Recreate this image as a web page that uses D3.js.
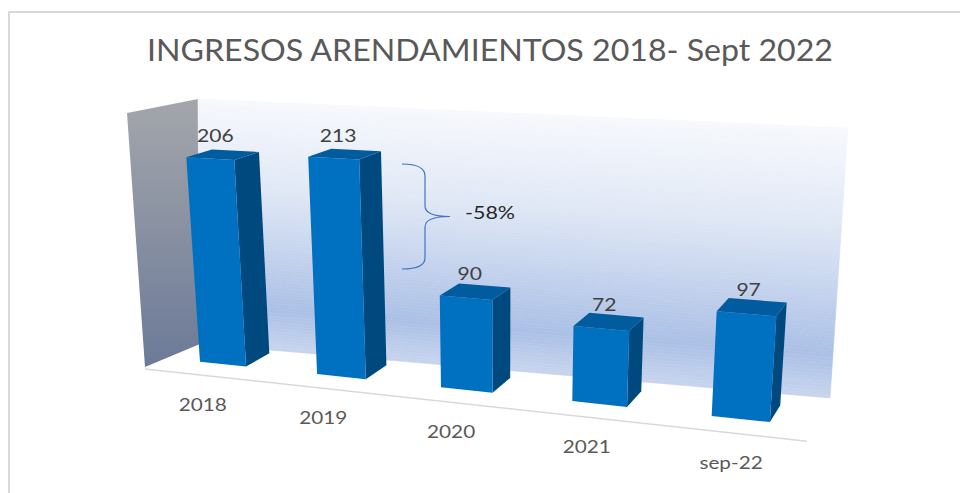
<!DOCTYPE html>
<html>
<head>
<meta charset="utf-8">
<script src="https://cdn.jsdelivr.net/npm/d3@7"></script>
<style>
  html, body { margin: 0; padding: 0; background: #ffffff; }
  svg { display: block; }
</style>
</head>
<body>
<svg id="chart" width="960" height="493"></svg>
<script>
// ---------------- DATA ----------------
const categories = ["2018", "2019", "2020", "2021", "sep-22"];
const values = [206, 213, 90, 72, 97];
const chartTitle = "INGRESOS ARENDAMIENTOS 2018- Sept 2022";
const annotationText = "-58%";
const valueMax = 250;

// ---------------- SCENE (3D perspective of the plot box) ----------------
const svg = d3.select("#chart");

// category axis in world units 0..5, bars take 40% of each slot
const xBand = d3.scaleBand().domain(categories).range([0, 5]).paddingInner(0.6).paddingOuter(0.3);
const yVal = d3.scaleLinear().domain([0, valueMax]).range([0, valueMax]);

// projective camera: world (U along categories, v depth, Y height) -> screen
function proj(U, v, Y) {
  const xh = 107.52 * U + 30.1 * v + 166.1 - 0.105 * Y;
  const yh = 2.124 * U - 3.5 * v + 358.11 - 1.017 * Y;
  const w = 1 - 0.0272 * U + 0.027 * v - 0.00021 * Y;
  return [xh / w, yh / w];
}
const floorFrontV = -0.806;

// border
svg.append("rect").attr("x", 9).attr("y", 12).attr("width", 1000).attr("height", 600)
  .attr("fill", "none").attr("stroke", "#d9d9d9").attr("stroke-width", 2);

// walls (decor)
const sideWall = [[127, 113], [198, 99], [200, 344], [145, 367]];
const backWall = { tl: [198, 99], tr: [848, 128], br: [830, 398], bl: [200, 344] };

const defs = svg.append("defs");
const sg = defs.append("linearGradient").attr("id", "sideGrad")
  .attr("gradientUnits", "userSpaceOnUse").attr("x1", 0).attr("y1", 100).attr("x2", 0).attr("y2", 367);
sg.append("stop").attr("offset", 0).attr("stop-color", "#a3a6ab");
sg.append("stop").attr("offset", 1).attr("stop-color", "#6c7a98");
svg.append("path").attr("d", "M" + sideWall.join("L") + "Z").attr("fill", "url(#sideGrad)");

const wallColor = d3.scaleLinear()
  .domain([0, 0.35, 0.6, 0.84, 1])
  .range(["#f7f9fd", "#e1e8f6", "#c6d4ee", "#abc0e6", "#c8d5ee"])
  .interpolate(d3.interpolateRgb);
const lerp = (a, b, t) => [a[0] + (b[0] - a[0]) * t, a[1] + (b[1] - a[1]) * t];
const N = 80;
const wallG = svg.append("g");
for (let k = 0; k < N; k++) {
  const t0 = k / N, t1 = (k + 1) / N;
  const p = [lerp(backWall.tl, backWall.bl, t0), lerp(backWall.tr, backWall.br, t0),
             lerp(backWall.tr, backWall.br, t1), lerp(backWall.tl, backWall.bl, t1)];
  const c = wallColor((t0 + t1) / 2);
  wallG.append("path").attr("d", "M" + p.join("L") + "Z").attr("fill", c).attr("stroke", c).attr("stroke-width", 0.6);
}

// floor front edge
const fl0 = proj(0, floorFrontV, 0), fl1 = proj(5, floorFrontV, 0);
svg.append("line").attr("x1", fl0[0]).attr("y1", fl0[1]).attr("x2", fl1[0]).attr("y2", fl1[1])
  .attr("stroke", "#d9d9d9").attr("stroke-width", 1.5);

// ---------------- BARS ----------------
const poly = pts => "M" + pts.map(p => p.join(",")).join("L") + "Z";
const barsG = svg.append("g");
categories.forEach((c, i) => {
  const u0 = xBand(c), u1 = u0 + xBand.bandwidth();
  const h = yVal(values[i]);
  const g = barsG.append("g");
  g.append("path").attr("d", poly([proj(u1, 0, 0), proj(u1, 1, 0), proj(u1, 1, h), proj(u1, 0, h)]))
    .attr("fill", "#00497f");
  g.append("path").attr("d", poly([proj(u0, 0, 0), proj(u1, 0, 0), proj(u1, 0, h), proj(u0, 0, h)]))
    .attr("fill", "#0070c0");
  g.append("path").attr("d", poly([proj(u0, 0, h), proj(u1, 0, h), proj(u1, 1, h), proj(u0, 1, h)]))
    .attr("fill", "#005b9f");
});

const FONT = "Lato, 'Open Sans', sans-serif";
// value labels
categories.forEach((c, i) => {
  const uc = xBand(c) + xBand.bandwidth() / 2;
  const p = proj(uc, 0.2, yVal(values[i]));
  const t = svg.append("text").attr("x", p[0]).attr("y", p[1] - 15)
    .attr("text-anchor", "middle").attr("font-family", FONT)
    .attr("font-size", 18).attr("fill", "#404040").text(values[i]);
  t.attr("textLength", t.node().getComputedTextLength() * 1.17).attr("lengthAdjust", "spacingAndGlyphs");
});

// category labels
categories.forEach((c, i) => {
  const uc = xBand(c) + xBand.bandwidth() / 2;
  const p = proj(uc, floorFrontV, 0);
  const t = svg.append("text").attr("x", p[0]).attr("y", p[1] + 36)
    .attr("text-anchor", "middle").attr("font-family", FONT)
    .attr("font-size", 17).attr("fill", "#595959").text(c);
  t.attr("textLength", t.node().getComputedTextLength() * 1.22).attr("lengthAdjust", "spacingAndGlyphs");
});

// title
svg.append("text").attr("x", 490).attr("y", 61).attr("text-anchor", "middle")
  .attr("font-family", FONT).attr("font-size", 30).attr("font-weight", 400)
  .attr("fill", "#595959").attr("textLength", 686).attr("lengthAdjust", "spacingAndGlyphs")
  .text(chartTitle);

// brace annotation
svg.append("path")
  .attr("d", "M402,164 C416,164 425,167 425,176 L425,206 C425,213 432,216.5 450,216.5 C432,216.5 425,220 425,227 L425,258 C425,266 416,269 402,269")
  .attr("fill", "none").attr("stroke", "#4472c4").attr("stroke-width", 1.2);
svg.append("text").attr("x", 465).attr("y", 219)
  .attr("font-family", FONT).attr("font-size", 17).attr("fill", "#262626")
  .attr("textLength", 50).attr("lengthAdjust", "spacingAndGlyphs")
  .text(annotationText);
</script>
</body>
</html>
